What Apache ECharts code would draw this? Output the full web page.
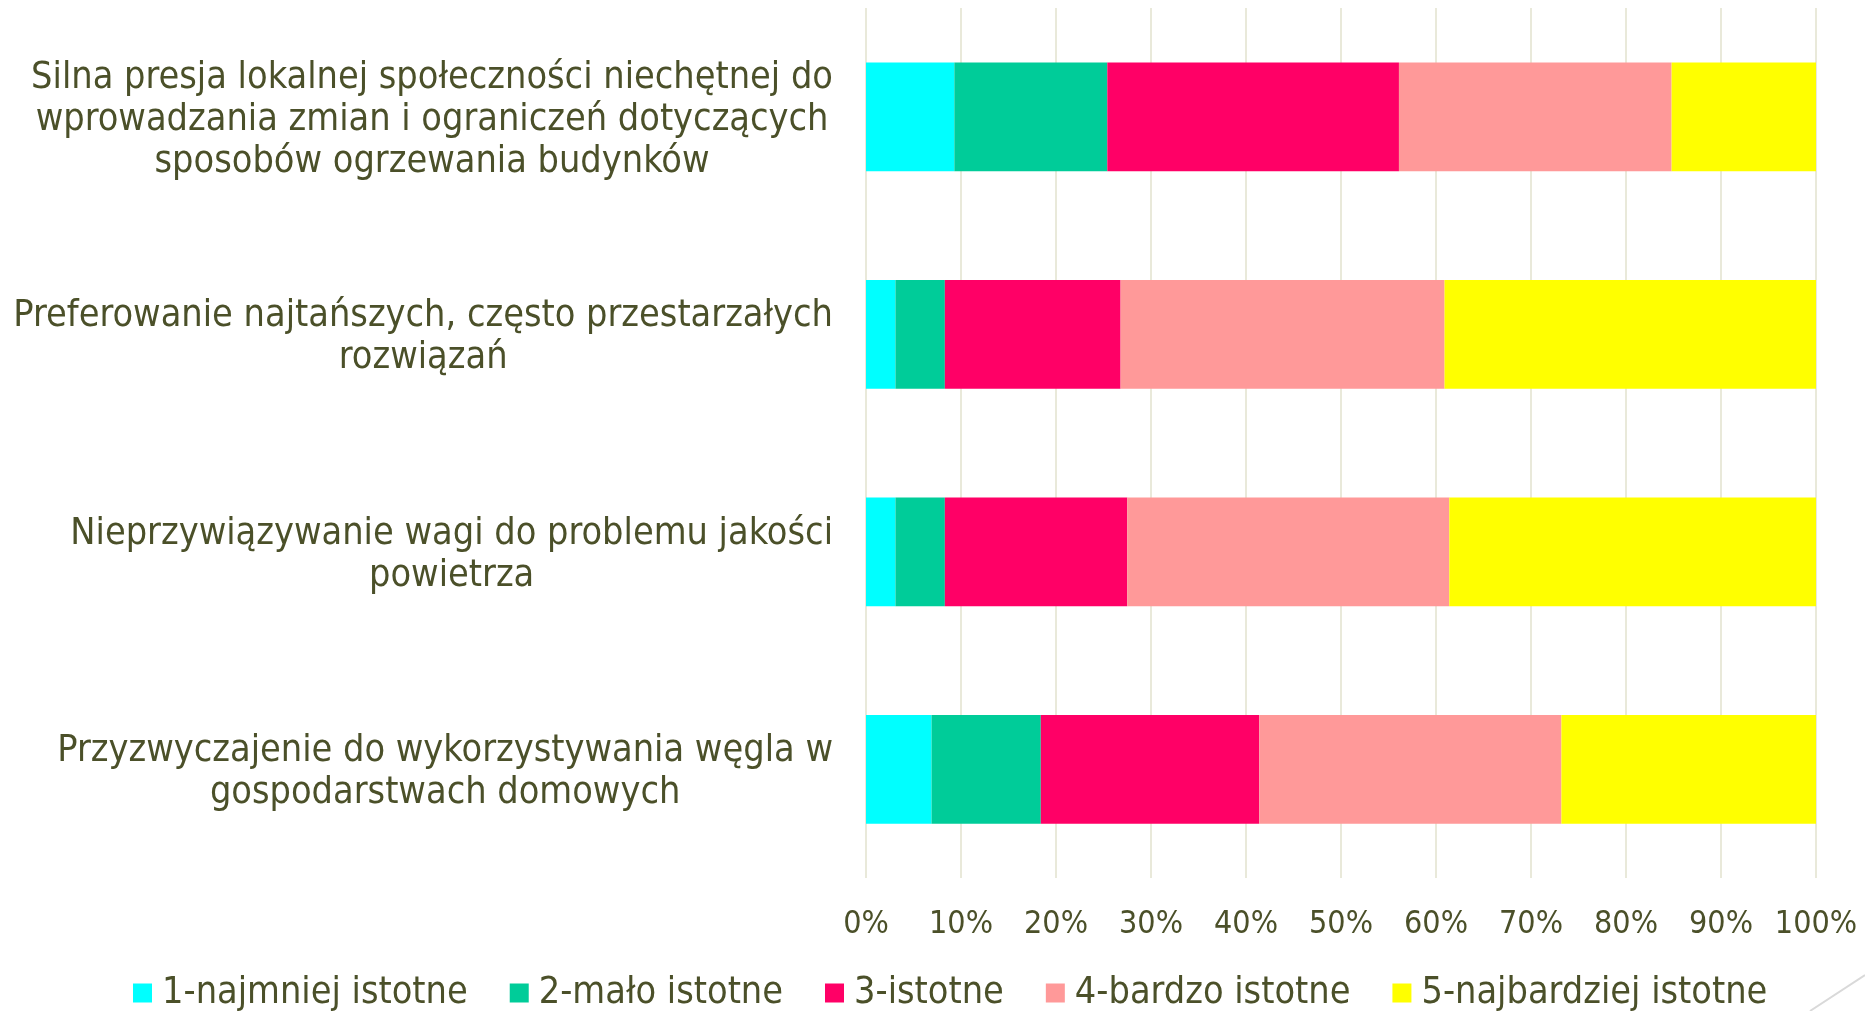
<!DOCTYPE html>
<html>
<head>
<meta charset="utf-8">
<title>Bariery</title>
<script src="https://cdn.jsdelivr.net/npm/echarts@6/dist/echarts.min.js"></script>
<style>
	html, body { margin: 0; padding: 0; background: #fff; }
	#chart { width: 1865px; height: 1011px; }
</style>
</head>
<body>
<div id="chart"></div>
<script>
	// kategorie od góry do dołu, z podziałem na linie jak w oryginale
	var categories = [
		'Silna presja lokalnej społeczności niechętnej do\nwprowadzania zmian i ograniczeń dotyczących\nsposobów ogrzewania budynków',
		'Preferowanie najtańszych, często przestarzałych\nrozwiązań',
		'Nieprzywiązywanie wagi do problemu jakości\npowietrza',
		'Przyzwyczajenie do wykorzystywania węgla w\ngospodarstwach domowych'
	];
	var seriesNames = ['1-najmniej istotne', '2-mało istotne', '3-istotne', '4-bardzo istotne', '5-najbardziej istotne'];
	// udziały w %
	var v1 = [9.3, 3.1, 3.1, 6.9];
	var v2 = [16.1, 5.2, 5.2, 11.5];
	var v3 = [30.7, 18.5, 19.2, 23.0];
	var v4 = [28.7, 34.1, 33.9, 31.8];
	var v5 = [15.2, 39.1, 38.6, 26.8];
	var xTicks = [0, 10, 20, 30, 40, 50, 60, 70, 80, 90, 100];

	var colors = ['#00ffff', '#00cc99', '#ff0066', '#ff9999', '#ffff00'];
	var textColor = '#4b5029';
	var font = '"DejaVu Sans Condensed", "DejaVu Sans", sans-serif';

	var chart = echarts.init(document.getElementById('chart'));
	var values = [v1, v2, v3, v4, v5];

	var option = {
		color: colors,
		animation: false,
		textStyle: {
			fontFamily: font
		},
		grid: {
			left: 866,
			right: 49,
			top: 8,
			bottom: 133
		},
		legend: {
			left: 133,
			top: 974,
			padding: 0,
			itemWidth: 19,
			itemHeight: 19,
			itemGap: 42,
			icon: 'rect',
			data: seriesNames,
			textStyle: {
				color: textColor,
				fontSize: 37.5,
				lineHeight: 37,
				fontFamily: font,
				padding: [0, 0, 0, 5]
			}
		},
		xAxis: {
			type: 'value',
			min: xTicks[0],
			max: xTicks[xTicks.length - 1],
			interval: 10,
			axisLine: { show: false },
			axisTick: { show: false },
			axisLabel: {
				color: textColor,
				fontSize: 32,
				fontFamily: font,
				margin: 31,
				formatter: '{value}%'
			},
			splitLine: {
				show: true,
				lineStyle: { color: '#e9e9da', width: 2 }
			}
		},
		yAxis: {
			type: 'category',
			inverse: true,
			data: categories,
			axisLine: { show: false },
			axisTick: { show: false },
			axisLabel: {
				color: textColor,
				fontSize: 37.5,
				fontFamily: font,
				align: 'right',
				margin: 33,
				lineHeight: 42,
				padding: [7, 0, 0, 0],
				formatter: function (val) {
					return val.split('\n').map(function (l) { return '{c|' + l + '}'; }).join('\n');
				},
				rich: {
					c: {
						align: 'center',
						color: textColor,
						fontSize: 37.5,
						fontFamily: font,
						lineHeight: 42
					}
				}
			}
		},
		graphic: [{
			type: 'line',
			shape: { x1: 1810, y1: 1011, x2: 1865, y2: 975 },
			style: { stroke: '#d9d9d9', lineWidth: 2 },
			silent: true
		}],
		series: seriesNames.map(function (name, i) {
			return {
				name: name,
				type: 'bar',
				stack: 'total',
				barCategoryGap: '50%',
				data: values[i]
			};
		})
	};

	chart.setOption(option);
</script>
</body>
</html>
